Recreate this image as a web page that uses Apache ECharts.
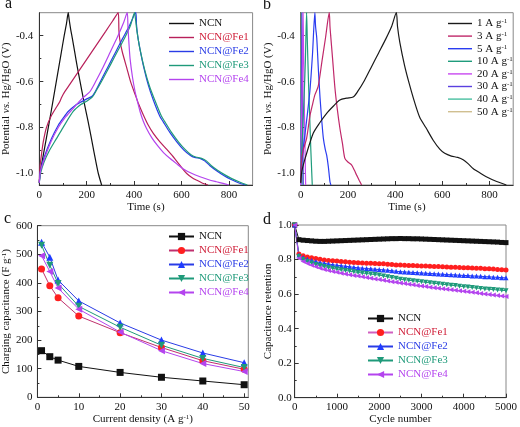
<!DOCTYPE html>
<html><head><meta charset="utf-8">
<script src="https://cdn.jsdelivr.net/npm/echarts@6/dist/echarts.min.js"></script>
<style>html,body{margin:0;padding:0;background:#fff}#c{width:520px;height:427px}</style>
</head><body><div id="c"></div>
<script>
// ---------- Panel a: GCD curves at 1 A/g ----------
const a_NCN_t = [0, 3, 15, 30, 50, 70, 90, 105, 115, 122, 126, 132, 139, 150, 160, 172, 185, 200, 211, 225, 237, 249, 263];
const a_NCN_v = [-1.04, -1.0, -0.93, -0.845, -0.73, -0.61, -0.49, -0.40, -0.345, -0.30, -0.33, -0.37, -0.41, -0.475, -0.535, -0.60, -0.67, -0.745, -0.80, -0.875, -0.94, -1.0, -1.05];
const a_Fe1_t = [0, 3, 10, 17, 30, 50, 70, 85, 95, 105, 130, 160, 200, 240, 280, 310, 333, 336, 340, 350, 369, 385, 404, 420, 439, 460, 481, 509, 538, 565, 587, 605, 622, 645, 664, 685, 712];
const a_Fe1_v = [-1.04, -0.97, -0.91, -0.86, -0.80, -0.75, -0.715, -0.69, -0.667, -0.648, -0.61, -0.564, -0.503, -0.442, -0.381, -0.335, -0.30, -0.38, -0.42, -0.47, -0.54, -0.60, -0.655, -0.70, -0.745, -0.79, -0.825, -0.862, -0.895, -0.927, -0.956, -0.98, -1.0, -1.018, -1.029, -1.04, -1.05];
const a_Fe2_t = [0, 5, 20, 52, 80, 100, 122, 150, 179, 200, 221, 235, 260, 290, 320, 350, 380, 407, 410, 415, 425, 439, 460, 481, 509, 523, 550, 580, 610, 636, 655, 680, 699, 720, 748, 780, 805, 840, 870];
const a_Fe2_v = [-1.04, -0.99, -0.93, -0.847, -0.79, -0.76, -0.73, -0.705, -0.687, -0.675, -0.665, -0.645, -0.595, -0.535, -0.475, -0.415, -0.357, -0.30, -0.35, -0.40, -0.46, -0.53, -0.615, -0.68, -0.752, -0.775, -0.82, -0.862, -0.898, -0.92, -0.93, -0.935, -0.946, -0.966, -0.988, -1.01, -1.024, -1.04, -1.05];
const a_Fe3_t = [0, 5, 20, 40, 73, 100, 143, 175, 200, 225, 240, 270, 300, 330, 360, 385, 402, 406, 412, 425, 445, 465, 487, 515, 530, 557, 587, 615, 640, 660, 685, 705, 725, 752, 785, 810, 845, 878];
const a_Fe3_v = [-1.04, -1.0, -0.95, -0.905, -0.847, -0.80, -0.73, -0.70, -0.685, -0.665, -0.64, -0.585, -0.527, -0.468, -0.41, -0.355, -0.30, -0.33, -0.38, -0.46, -0.55, -0.62, -0.68, -0.75, -0.775, -0.82, -0.862, -0.895, -0.918, -0.928, -0.934, -0.945, -0.965, -0.986, -1.007, -1.021, -1.037, -1.05];
const a_Fe4_t = [0, 5, 20, 50, 80, 110, 140, 165, 190, 214, 240, 270, 300, 330, 355, 371, 374, 378, 383, 393, 404, 415, 425, 438, 453, 475, 500, 525, 552, 580, 608, 640, 678, 715, 748, 775, 800];
const a_Fe4_v = [-1.04, -0.99, -0.94, -0.86, -0.80, -0.755, -0.72, -0.69, -0.665, -0.643, -0.595, -0.535, -0.47, -0.405, -0.345, -0.30, -0.36, -0.43, -0.50, -0.58, -0.643, -0.69, -0.73, -0.77, -0.805, -0.845, -0.88, -0.91, -0.935, -0.958, -0.98, -0.998, -1.014, -1.027, -1.036, -1.043, -1.05];

// ---------- Panel b: NCN@Fe2 at different current densities ----------
const b_1A_t = [0, 5, 20, 53, 80, 110, 140, 166, 195, 222, 240, 270, 300, 330, 360, 385, 405, 410, 420, 440, 460, 481, 504, 530, 561, 590, 610, 638, 665, 688, 710, 730, 760, 786, 830, 871];
const b_1A_v = [-1.04, -0.99, -0.93, -0.825, -0.78, -0.738, -0.705, -0.68, -0.672, -0.667, -0.645, -0.595, -0.535, -0.475, -0.415, -0.36, -0.30, -0.36, -0.43, -0.53, -0.61, -0.685, -0.755, -0.80, -0.855, -0.895, -0.912, -0.924, -0.93, -0.94, -0.958, -0.978, -0.998, -1.014, -1.035, -1.05];
const b_3A_t = [0, 3, 10, 25, 39, 50, 60, 74, 90, 105, 121, 124, 127, 135, 145, 155, 166, 177, 187, 200, 216, 227, 237, 248, 258];
const b_3A_v = [-1.04, -0.95, -0.90, -0.847, -0.75, -0.70, -0.658, -0.621, -0.512, -0.41, -0.30, -0.36, -0.40, -0.50, -0.628, -0.72, -0.803, -0.87, -0.934, -0.950, -0.963, -0.985, -1.007, -1.03, -1.05];
const b_5A_t = [0, 3, 12, 25, 39, 50, 60, 63, 68, 75, 82, 90, 96, 104, 110, 117, 124, 128];
const b_5A_v = [-1.04, -0.97, -0.88, -0.77, -0.64, -0.48, -0.30, -0.36, -0.41, -0.55, -0.672, -0.78, -0.847, -0.895, -0.92, -0.97, -1.036, -1.05];
const b_10A_t = [0, 2, 8, 15, 20, 25, 28, 33, 38, 43, 49];
const b_10A_v = [-1.04, -0.95, -0.82, -0.65, -0.50, -0.30, -0.42, -0.60, -0.75, -0.90, -1.05];
const b_20A_t = [0, 2, 5, 8, 10, 12, 16, 21];
const b_20A_v = [-1.05, -0.90, -0.72, -0.50, -0.30, -0.45, -0.75, -1.05];
const b_30A_t = [0, 2, 5, 7, 11];
const b_30A_v = [-1.05, -0.80, -0.30, -0.55, -1.05];
const b_40A_t = [0, 1.5, 3, 4.5, 6.5];
const b_40A_v = [-1.05, -0.75, -0.30, -0.60, -1.05];
const b_50A_t = [0, 1, 2, 3, 4];
const b_50A_v = [-1.05, -0.70, -0.30, -0.60, -1.05];

// ---------- Panel c: charging capacitance vs current density ----------
const c_current = [1, 3, 5, 10, 20, 30, 40, 50];
const c_NCN = [163, 142, 130, 108, 87, 70, 57, 44];
const c_Fe1 = [449, 390, 348, 284, 226, 174, 128, 98];
const c_Fe2 = [542, 490, 410, 337, 260, 200, 155, 121];
const c_Fe3 = [532, 462, 398, 318, 245, 182, 136, 104];
const c_Fe4 = [495, 440, 382, 308, 228, 163, 118, 90];

// ---------- Panel d: cycling stability ----------
const d_cycles = [0,100,200,300,400,500,600,700,800,900,1000,1100,1200,1300,1400,1500,1600,1700,1800,1900,2000,2100,2200,2300,2400,2500,2600,2700,2800,2900,3000,3100,3200,3300,3400,3500,3600,3700,3800,3900,4000,4100,4200,4300,4400,4500,4600,4700,4800,4900,5000];
const d_NCN = [1.000,0.915,0.912,0.910,0.908,0.906,0.905,0.905,0.906,0.907,0.908,0.909,0.910,0.911,0.912,0.913,0.914,0.915,0.916,0.917,0.918,0.919,0.920,0.921,0.921,0.922,0.921,0.921,0.920,0.920,0.919,0.918,0.917,0.916,0.915,0.914,0.913,0.912,0.911,0.910,0.909,0.908,0.907,0.906,0.905,0.904,0.903,0.902,0.901,0.899,0.898];
const d_Fe1 = [1.000,0.832,0.822,0.815,0.810,0.806,0.802,0.798,0.795,0.793,0.791,0.789,0.787,0.785,0.783,0.781,0.780,0.779,0.778,0.777,0.776,0.775,0.773,0.771,0.769,0.768,0.767,0.766,0.765,0.764,0.763,0.762,0.761,0.760,0.759,0.758,0.757,0.756,0.755,0.754,0.753,0.752,0.751,0.750,0.749,0.747,0.746,0.745,0.743,0.741,0.739];
const d_Fe2 = [1.000,0.826,0.812,0.802,0.794,0.788,0.782,0.778,0.774,0.770,0.767,0.764,0.761,0.758,0.755,0.752,0.750,0.748,0.746,0.744,0.742,0.740,0.738,0.735,0.732,0.730,0.728,0.727,0.725,0.724,0.722,0.721,0.719,0.718,0.716,0.715,0.713,0.712,0.711,0.709,0.708,0.707,0.705,0.704,0.703,0.701,0.700,0.698,0.697,0.695,0.694];
const d_Fe3 = [1.000,0.818,0.800,0.789,0.780,0.772,0.765,0.759,0.754,0.749,0.745,0.741,0.737,0.733,0.729,0.725,0.722,0.719,0.716,0.713,0.710,0.705,0.700,0.696,0.692,0.686,0.683,0.680,0.677,0.674,0.671,0.668,0.665,0.662,0.660,0.657,0.654,0.651,0.649,0.646,0.643,0.641,0.638,0.635,0.633,0.630,0.628,0.626,0.624,0.622,0.620];
const d_Fe4 = [1.000,0.808,0.789,0.777,0.767,0.758,0.750,0.743,0.737,0.731,0.726,0.721,0.716,0.712,0.708,0.704,0.700,0.696,0.692,0.688,0.684,0.680,0.676,0.672,0.668,0.664,0.661,0.657,0.654,0.650,0.647,0.644,0.640,0.637,0.634,0.631,0.628,0.625,0.622,0.619,0.616,0.613,0.610,0.607,0.604,0.601,0.598,0.595,0.592,0.589,0.586];

// ---------- Tick values ----------
const tA_x = [0, 200, 400, 600, 800];
const tA_xMinor = [100, 300, 500, 700];
const tA_y = [-1.0, -0.8, -0.6, -0.4];
const tA_yMinor = [-0.9, -0.7, -0.5];
const tC_x = [0, 10, 20, 30, 40, 50];
const tC_xMinor = [5, 15, 25, 35, 45];
const tC_y = [0, 100, 200, 300, 400, 500, 600];
const tC_yMinor = [50, 150, 250, 350, 450, 550];
const tD_x = [0, 1000, 2000, 3000, 4000, 5000];
const tD_xMinor = [500, 1500, 2500, 3500, 4500];
const tD_y = [0.0, 0.2, 0.4, 0.6, 0.8, 1.0];
const tD_yMinor = [0.1, 0.3, 0.5, 0.7, 0.9];

// ---------- Styling ----------
const FONT = '"Liberation Serif","Times New Roman",serif';
const TXT = '#111';
const AX = '#333';
const COL = { NCN: '#111111', Fe1: '#b8205a', Fe2: '#2a3ce6', Fe3: '#1f9a7a', Fe4: '#b444ee' };
const COL_MK = { NCN: '#111111', Fe1: '#ff1f1f', Fe2: '#1f3cff', Fe3: '#1f9a7a', Fe4: '#b444ee' };
const COL_TXT = { NCN: '#111111', Fe1: '#d0203a', Fe2: '#2a3ce6', Fe3: '#1f9a7a', Fe4: '#b444ee' };
const COL_B = ['#1a1a1a', '#c0286a', '#2a3cf0', '#1f9c7c', '#c848f0', '#5a40e0', '#48c0a0', '#d0bf90'];

const zip = (t, v) => t.map((x, i) => [x, v[i]]);
const rich = {
  s: { fontFamily: FONT, fontSize: 7, verticalAlign: 'top', color: TXT },
  i: { fontFamily: FONT, fontSize: 11, fontStyle: 'italic', color: TXT },
  t: { fontFamily: FONT, fontSize: 11 }
};

const grids = [
  { left: 39.3, top: 12.7, width: 213.3, height: 172.3 },
  { left: 300.7, top: 12.7, width: 212.5, height: 172.3 },
  { left: 37.3, top: 225.7, width: 211, height: 171.6 },
  { left: 294.7, top: 225, width: 212.6, height: 172.7 }
].map(g => Object.assign({ show: true, borderColor: '#888', borderWidth: 1, backgroundColor: 'transparent' }, g));

function axisPair(dim, g, min, max, majors, minors, fmt, name, nameGap, margin) {
  const main = {
    type: 'value', gridIndex: g, min: min, max: max,
    position: dim === 'x' ? 'bottom' : 'left',
    axisLine: { show: true, onZero: false, lineStyle: { color: AX, width: 1 } },
    axisTick: { show: true, inside: true, length: 4, customValues: majors, lineStyle: { color: AX } },
    axisLabel: { customValues: majors, margin: margin, fontFamily: FONT, fontSize: 11, color: TXT, formatter: fmt },
    splitLine: { show: false },
    name: name, nameLocation: 'middle', nameGap: nameGap,
    nameTextStyle: { fontFamily: FONT, fontSize: 11, color: TXT, rich: rich }
  };
  const minor = {
    type: 'value', gridIndex: g, min: min, max: max,
    position: dim === 'x' ? 'bottom' : 'left',
    axisLine: { show: false, onZero: false },
    axisTick: { show: true, inside: true, length: 2, customValues: minors, lineStyle: { color: AX } },
    axisLabel: { show: false },
    splitLine: { show: false }
  };
  return [main, minor];
}
const f1 = v => v.toFixed(1);
const f0 = v => String(Math.round(v));

const xAxis = [].concat(
  axisPair('x', 0, 0, 900, tA_x, tA_xMinor, f0, 'Time (s)', 15, 5),
  axisPair('x', 1, 0, 900, tA_x, tA_xMinor, f0, 'Time (s)', 15, 5),
  axisPair('x', 2, 0, 51, tC_x, tC_xMinor, f0, 'Current density (A g{s|-1})', 16, 4),
  axisPair('x', 3, 0, 5000, tD_x, tD_xMinor, f0, 'Cycle number', 16, 4)
);
const yAxis = [].concat(
  axisPair('y', 0, -1.05, -0.3, tA_y, tA_yMinor, f1, 'Potential {i|vs.} Hg/HgO (V)', 21, 6),
  axisPair('y', 1, -1.05, -0.3, tA_y, tA_yMinor, f1, 'Potential {i|vs.} Hg/HgO (V)', 23, 6),
  axisPair('y', 2, 0, 600, tC_y, tC_yMinor, f0, 'Charging capacitance (F g{s|-1})', 22, 5),
  axisPair('y', 3, 0, 1.0, tD_y, tD_yMinor, f1, 'Capacitance retention', 21, 3)
);

const series = [];
function lineSeries(name, panel, t, v, color) {
  series.push({
    name: name, type: 'line', xAxisIndex: panel * 2, yAxisIndex: panel * 2,
    data: zip(t, v), symbol: 'none', smooth: 0.25,
    lineStyle: { color: color, width: 1.2 }, itemStyle: { color: color }
  });
}
lineSeries('a:NCN', 0, a_NCN_t, a_NCN_v, COL.NCN);
lineSeries('a:NCN@Fe1', 0, a_Fe1_t, a_Fe1_v, COL.Fe1);
lineSeries('a:NCN@Fe2', 0, a_Fe2_t, a_Fe2_v, COL.Fe2);
lineSeries('a:NCN@Fe3', 0, a_Fe3_t, a_Fe3_v, COL.Fe3);
lineSeries('a:NCN@Fe4', 0, a_Fe4_t, a_Fe4_v, COL.Fe4);

const bNames = ['b:1 A', 'b:3 A', 'b:5 A', 'b:10 A', 'b:20 A', 'b:30 A', 'b:40 A', 'b:50 A'];
const bData = [[b_1A_t, b_1A_v], [b_3A_t, b_3A_v], [b_5A_t, b_5A_v], [b_10A_t, b_10A_v], [b_20A_t, b_20A_v], [b_30A_t, b_30A_v], [b_40A_t, b_40A_v], [b_50A_t, b_50A_v]];
for (let i = bNames.length - 1; i >= 0; i--) lineSeries(bNames[i], 1, bData[i][0], bData[i][1], COL_B[i]);

const shapes = [
  { symbol: 'rect', rot: 0 }, { symbol: 'circle', rot: 0 }, { symbol: 'triangle', rot: 0 },
  { symbol: 'triangle', rot: 180 }, { symbol: 'triangle', rot: 90 }
];
const keys = ['NCN', 'Fe1', 'Fe2', 'Fe3', 'Fe4'];
const labels = ['NCN', 'NCN@Fe1', 'NCN@Fe2', 'NCN@Fe3', 'NCN@Fe4'];
const cVals = [c_NCN, c_Fe1, c_Fe2, c_Fe3, c_Fe4];
const dVals = [d_NCN, d_Fe1, d_Fe2, d_Fe3, d_Fe4];
keys.forEach((k, i) => {
  series.push({
    name: 'c:' + labels[i], type: 'line', xAxisIndex: 4, yAxisIndex: 4,
    data: zip(c_current, cVals[i]), symbol: shapes[i].symbol, symbolRotate: shapes[i].rot, symbolSize: 7,
    showAllSymbol: true,
    lineStyle: { color: i === 1 ? '#c0306e' : COL[k], width: 1 }, itemStyle: { color: COL_MK[k] }
  });
});
keys.forEach((k, i) => {
  series.push({
    name: 'd:' + labels[i], type: 'line', xAxisIndex: 6, yAxisIndex: 6,
    data: zip(d_cycles, dVals[i]), symbol: shapes[i].symbol, symbolRotate: shapes[i].rot, symbolSize: 5,
    showAllSymbol: true,
    lineStyle: { color: i === 1 ? '#d060c0' : COL[k], width: 1 }, itemStyle: { color: COL_MK[k] }
  });
});

function legendFor(prefix, left, top, lineOnly, gap) {
  const lg = {
    orient: 'vertical', left: left, top: top, itemWidth: 25, itemHeight: lineOnly ? 1.4 : 9, itemGap: gap,
    selectedMode: false,
    textStyle: { fontFamily: FONT, fontSize: 11, color: TXT },
    data: labels.map((l, i) => ({ name: prefix + l, textStyle: { color: COL_TXT[keys[i]] } })),
    formatter: n => n.slice(2)
  };
  if (lineOnly) lg.icon = 'rect';
  return lg;
}
const legends = [
  legendFor('a:', 164, 13, true, 3),
  {
    orient: 'vertical', left: 443, top: 13, itemWidth: 24, itemHeight: 1.4, itemGap: 1.6, icon: 'rect',
    selectedMode: false,
    textStyle: { fontFamily: FONT, fontSize: 11, color: TXT, rich: rich },
    data: bNames.map(n => ({ name: n })),
    formatter: n => '{t|' + n.slice(2) + ' g}{s|-1}'
  },
  legendFor('c:', 163, 226, false, 3),
  legendFor('d:', 362, 308, false, 3)
];

const chart = echarts.init(document.getElementById('c'), null, { renderer: 'canvas' });
chart.setOption({
  animation: false,
  backgroundColor: '#fff',
  grid: grids,
  xAxis: xAxis,
  yAxis: yAxis,
  legend: legends,
  series: series,
  graphic: [
    { type: 'text', x: 5, y: -4, style: { text: 'a', font: '16px ' + FONT, fill: TXT } },
    { type: 'text', x: 263, y: -3, style: { text: 'b', font: '16px ' + FONT, fill: TXT } },
    { type: 'text', x: 4, y: 211, style: { text: 'c', font: '16px ' + FONT, fill: TXT } },
    { type: 'text', x: 263, y: 212, style: { text: 'd', font: '16px ' + FONT, fill: TXT } }
  ]
});
</script></body></html>
